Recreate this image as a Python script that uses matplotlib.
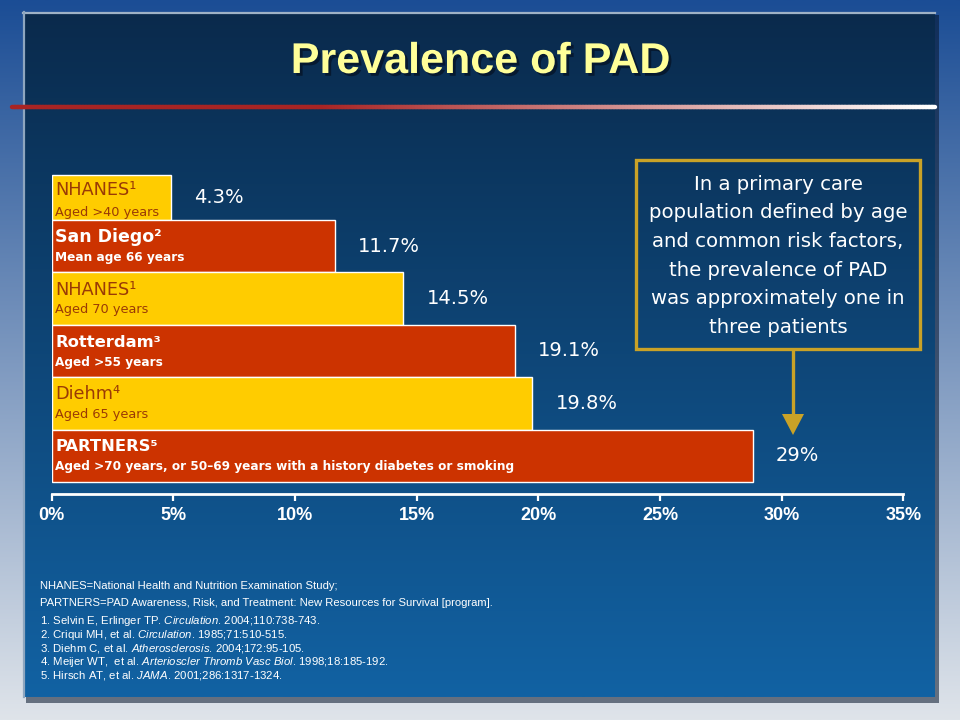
import numpy as np
import matplotlib
matplotlib.use('Agg')
import matplotlib.pyplot as plt
import matplotlib.patheffects as pe
from matplotlib.colors import to_rgb
from matplotlib.collections import LineCollection
from matplotlib.patches import Rectangle, Polygon

plt.rcParams['mathtext.fontset'] = 'custom'
plt.rcParams['mathtext.rm'] = 'Liberation Sans'
plt.rcParams['mathtext.it'] = 'Liberation Sans:italic'

# ---------------- data ----------------
study_names = ["NHANES¹", "San Diego²", "NHANES¹", "Rotterdam³", "Diehm⁴", "PARTNERS⁵"]
study_details = ["Aged >40 years", "Mean age 66 years", "Aged 70 years",
                 "Aged >55 years", "Aged 65 years",
                 "Aged >70 years, or 50–69 years with a history diabetes or smoking"]
prevalence_labels = ["4.3%", "11.7%", "14.5%", "19.1%", "19.8%", "29%"]
bar_lengths = [4.9, 11.65, 14.45, 19.05, 19.75, 28.8]
bar_kinds = ["yellow", "red", "yellow", "red", "yellow", "red"]
x_ticks = [0, 5, 10, 15, 20, 25, 30, 35]
x_tick_labels = ["0%", "5%", "10%", "15%", "20%", "25%", "30%", "35%"]
callout_lines = ["In a primary care", "population defined by age",
                 "and common risk factors,", "the prevalence of PAD",
                 "was approximately one in", "three patients"]
footnote_lines = ["NHANES=National Health and Nutrition Examination Study;",
                  "PARTNERS=PAD Awareness, Risk, and Treatment: New Resources for Survival [program]."]
reference_lines = ["1. Selvin E, Erlinger TP. $\\mathit{Circulation}$. 2004;110:738-743.",
                   "2. Criqui MH, et al. $\\mathit{Circulation}$. 1985;71:510-515.",
                   "3. Diehm C, et al. $\\mathit{Atherosclerosis}$. 2004;172:95-105.",
                   "4. Meijer WT,  et al. $\\mathit{Arterioscler\\ Thromb\\ Vasc\\ Biol}$. 1998;18:185-192.",
                   "5. Hirsch AT, et al. $\\mathit{JAMA}$. 2001;286:1317-1324."]

YELLOW = "#FFCC00"
RED = "#CC3300"
BROWN = "#9A3A06"
GOLD = "#C9A227"
NARROW = ['Liberation Sans Narrow', 'Liberation Sans', 'DejaVu Sans']
SANS = ['DejaVu Sans']

fig = plt.figure(figsize=(9.6, 7.2), dpi=100)

# ---------------- background (pixel coordinates) ----------------
bg = fig.add_axes([0, 0, 1, 1])
bg.set_xlim(0, 960)
bg.set_ylim(720, 0)
bg.axis('off')

def vgrad(c1, c2, n=256):
    a = np.array(to_rgb(c1)); b = np.array(to_rgb(c2))
    t = np.linspace(0, 1, n)[:, None]
    return (a + (b - a) * t)[:, None, :]

bg.imshow(vgrad("#1b4d95", "#dfe4ea"), extent=(0, 960, 720, 0), aspect='auto', zorder=0)
# panel shadow
bg.add_patch(Rectangle((26, 15), 913, 688, facecolor="#06142a", alpha=0.55, zorder=1, lw=0))
bg.imshow(vgrad("#0a2a4c", "#1262a3"), extent=(23, 935, 697, 12), aspect='auto', zorder=2)
bg.plot([23, 935], [12.5, 12.5], color="#9fb2c6", lw=1.6, zorder=3)
bg.plot([23.5, 23.5], [12, 697], color="#8ea6bf", lw=1.6, zorder=3)

# title with drop shadow
bg.text(480, 62, "Prevalence of PAD", ha='center', va='center', color="#FFFF99",
        fontsize=31, fontweight='bold', family=NARROW, zorder=5,
        path_effects=[pe.withSimplePatchShadow(offset=(2, -2), shadow_rgbFace="#051428", alpha=0.8)])

# red gradient rule
xs = np.linspace(12, 935, 300)
segs = [[(xs[i], 107), (xs[i + 1], 107)] for i in range(len(xs) - 1)]
red = np.array(to_rgb("#a82424")); white = np.array([1.0, 1.0, 1.0])
cols = []
for x in xs[:-1]:
    t = np.clip((x - 320) / (930 - 320), 0, 1)
    cols.append(red + (white - red) * t)
bg.add_collection(LineCollection(segs, colors=cols, linewidths=3.2, zorder=5, capstyle='round'))

# callout box
bg.add_patch(Rectangle((636, 160), 284, 189, facecolor='none', edgecolor=GOLD, lw=2.4, zorder=5))
for i, line in enumerate(callout_lines):
    bg.text(778, 184 + i * 28.7, line, ha='center', va='center', color='white',
            fontsize=14.2, family=SANS, zorder=6)
bg.plot([793, 793], [350, 416], color=GOLD, lw=2.4, zorder=5, solid_capstyle='butt')
bg.add_patch(Polygon([(782, 414), (804, 414), (793, 435)], closed=True, facecolor=GOLD,
                     edgecolor='none', zorder=5))

# footnotes
bg.text(40, 586, footnote_lines[0], ha='left', va='center', color='white', fontsize=8.1,
        family=['Liberation Sans'], zorder=6)
bg.text(40, 603, footnote_lines[1], ha='left', va='center', color='white', fontsize=8.1,
        family=['Liberation Sans'], zorder=6)
for i, line in enumerate(reference_lines):
    bg.text(40, 621 + i * 13.6, line, ha='left', va='center', color='white', fontsize=8.2,
            family=['Liberation Sans'], zorder=6)

# ---------------- bar chart ----------------
px_unit = 52.4
ax = fig.add_axes([51.5 / 960, (720 - 494) / 720, (903.5 - 51.5) / 960, (494 - 160) / 720])
ax.patch.set_alpha(0)
ax.set_xlim(0, 35)
ax.set_ylim(-(494 - 482) / px_unit, (482 - 160) / px_unit)

n = len(bar_lengths)
bottoms = [n - 1 - i for i in range(n)]
heights = [0.86] + [1.0] * (n - 1)
colors = [YELLOW if k == "yellow" else RED for k in bar_kinds]
ax.barh(bottoms, bar_lengths, height=heights, align='edge', color=colors,
        edgecolor='white', linewidth=1.0, zorder=3)

for i in range(n):
    top = bottoms[i] + heights[i]
    center = bottoms[i] + heights[i] / 2
    is_red = bar_kinds[i] == "red"
    tcol = 'white' if is_red else BROWN
    name_size = 12.5 if i == 1 else (11.8 if is_red else 12.8)
    name_dy = 0.28 if i == 0 else 0.33
    ax.text(0.15, top - name_dy, study_names[i], ha='left', va='center', color=tcol,
            fontsize=name_size, fontweight='bold' if is_red else 'normal',
            family=SANS, zorder=4)
    ax.text(0.15, top - 0.71, study_details[i], ha='left', va='center', color=tcol,
            fontsize=8.7 if is_red else 9.3, fontweight='bold' if is_red else 'normal',
            family=SANS, zorder=4)
    ax.text(bar_lengths[i] + 0.95, center, prevalence_labels[i], ha='left', va='center',
            color='white', fontsize=14, family=SANS, zorder=4)

for s in ['top', 'right', 'left']:
    ax.spines[s].set_visible(False)
ax.spines['bottom'].set_color('white')
ax.spines['bottom'].set_linewidth(2)
ax.set_yticks([])
ax.set_xticks(x_ticks)
ax.set_xticklabels(x_tick_labels, fontweight='bold', fontsize=13, family=NARROW)
ax.tick_params(axis='x', colors='white', length=5, width=1.6, direction='out', pad=4)

fig.savefig("out.png", dpi=100)
